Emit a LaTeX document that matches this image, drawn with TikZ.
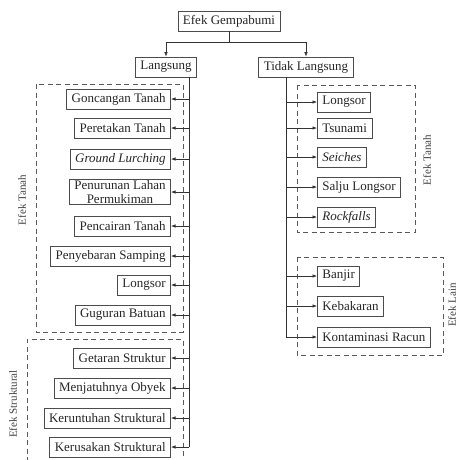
\documentclass[tikz,border=0pt]{standalone}
\usepackage{fontspec}
\setmainfont{Liberation Serif}
\usetikzlibrary{arrows.meta}
\begin{document}
\begin{tikzpicture}[x=1pt,y=-1pt,
  box/.style={draw=black!70,line width=0.7pt,fill=white,minimum height=20pt,inner xsep=5pt,inner ysep=2pt,font=\fontsize{13}{13.5}\selectfont,text=black!85},
  lbox/.style={box,anchor=east},
  rbox/.style={box,anchor=west},
  conn/.style={draw=black!80,line width=0.6pt},
  arr/.style={conn,-{Latex[length=4.5pt,width=3.5pt]}},
  group/.style={draw=black!65,line width=0.8pt,dash pattern=on 5pt off 3.5pt},
  glabel/.style={rotate=90,font=\fontsize{11}{11}\selectfont,text=black!75}]
\useasboundingbox (0,0) rectangle (460,459);

% dashed groups
\draw[group] (36,84) rectangle (183,332);
\draw[group] (27,462) -- (27,339) -- (183,339) -- (183,462);
\draw[group] (297,85) rectangle (415,232);
\draw[group] (297,257) rectangle (443,355);
\node[glabel] (gl1) at (22,200) {Efek Tanah};
\node[glabel] (gl2) at (13,404) {Efek Struktural};
\node[glabel] (gl3) at (427,160) {Efek Tanah};
\node[glabel] (gl4) at (452,305) {Efek Lain};

% top
\node[box] (E) at (229,21) {Efek Gempabumi};
\node[box] (L) at (166,67) {Langsung};
\node[box] (T) at (306,67) {Tidak Langsung};
\draw[arr] (E.south) -- ++(0,11) -| (L.north);
\draw[arr] (E.south) -- ++(0,11) -| (T.north);

% left column
\node[lbox] (a1) at (171,99) {Goncangan Tanah};
\node[lbox] (a2) at (171,128) {Peretakan Tanah};
\node[lbox] (a3) at (171,159) {\itshape Ground Lurching};
\node[lbox,align=center,inner ysep=1pt] (a4) at (171,192) {Penurunan Lahan\\Permukiman};
\node[lbox] (a5) at (171,226) {Pencairan Tanah};
\node[lbox] (a6) at (171,256) {Penyebaran Samping};
\node[lbox] (a7) at (171,285) {Longsor};
\node[lbox] (a8) at (171,315) {Guguran Batuan};
\node[lbox] (a9) at (171,358) {Getaran Struktur};
\node[lbox] (a10) at (171,388) {Menjatuhnya Obyek};
\node[lbox] (a11) at (171,418) {Keruntuhan Struktural};
\node[lbox] (a12) at (171,447) {Kerusakan Struktural};
\coordinate (lt) at (189,447);
\draw[conn] (L.south -| lt) -- (lt);
\foreach \n in {a1,a2,a3,a4,a5,a6,a7,a8,a9,a10,a11,a12}
  \draw[arr] (lt |- \n.east) -- (\n.east);

% right column
\node[rbox] (b1) at (317,102) {Longsor};
\node[rbox] (b2) at (317,128) {Tsunami};
\node[rbox] (b3) at (317,157) {\itshape Seiches};
\node[rbox] (b4) at (317,187) {Salju Longsor};
\node[rbox] (b5) at (317,217) {\itshape Rockfalls};
\node[rbox] (b6) at (317,276) {Banjir};
\node[rbox] (b7) at (317,306) {Kebakaran};
\node[rbox] (b8) at (317,337) {Kontaminasi Racun};
\coordinate (rt) at (286,337);
\draw[conn] (T.south -| rt) -- (rt);
\foreach \n in {b1,b2,b3,b4,b5,b6,b7,b8}
  \draw[arr] (rt |- \n.west) -- (\n.west);
\end{tikzpicture}
\end{document}
